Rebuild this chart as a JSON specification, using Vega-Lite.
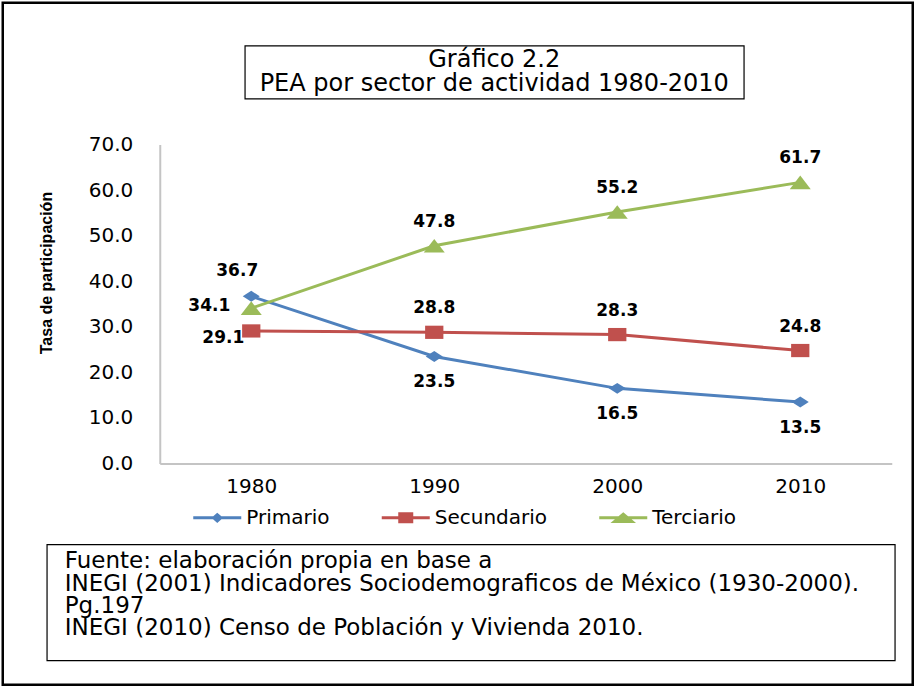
{
  "$schema": "https://vega.github.io/schema/vega-lite/v6.json",
  "padding": {"left": 0.75, "top": 0.75, "right": 0, "bottom": 0},
  "autosize": {"type": "pad"},
  "background": "white",
  "config": {"view": {"stroke": null}, "font": "DejaVu Sans"},
  "spacing": 0,
  "bounds": "flush",
  "resolve": {"scale": {"color": "independent", "shape": "independent"}, "legend": {"color": "independent", "shape": "independent"}},
  "vconcat": [
    {
      "spacing": 3.9,
      "bounds": "full",
      "resolve": {"scale": {"color": "independent", "shape": "independent"}, "legend": {"color": "independent", "shape": "independent"}},
      "vconcat": [
        {"width": 1, "height": 37.5, "data": {"values": []}, "mark": "point", "encoding": {}},
        {
          "spacing": 0,
          "bounds": "full",
          "hconcat": [
            {"width": 240.4, "height": 84.2, "data": {"values": []}, "mark": "point", "encoding": {}},
            {
              "width": 499, "height": 53,
              "view": {"stroke": "#000000", "strokeWidth": 1.2},
              "data": {"values": [{"titulo": "Gráfico 2.2\nPEA por sector de actividad 1980-2010"}]},
              "mark": {"type": "text", "lineBreak": "\n", "fontSize": 24, "lineHeight": 24, "dy": -12, "align": "center", "baseline": "middle", "color": "#000000", "font": "DejaVu Sans"},
              "encoding": {"text": {"field": "titulo", "type": "nominal"}}
            }
          ]
        },
        {
          "spacing": 0,
          "bounds": "full",
          "resolve": {"scale": {"color": "independent", "shape": "independent"}, "legend": {"color": "independent", "shape": "independent"}},
          "hconcat": [
            {"width": 35, "height": 1, "data": {"values": []}, "mark": "point", "encoding": {}},
            {
              "width": 732, "height": 319,
              "data": {"values": [
                {"year": "1980", "series": "Primario", "value": 36.7},
                {"year": "1990", "series": "Primario", "value": 23.5},
                {"year": "2000", "series": "Primario", "value": 16.5},
                {"year": "2010", "series": "Primario", "value": 13.5},
                {"year": "1980", "series": "Secundario", "value": 29.1},
                {"year": "1990", "series": "Secundario", "value": 28.8},
                {"year": "2000", "series": "Secundario", "value": 28.3},
                {"year": "2010", "series": "Secundario", "value": 24.8},
                {"year": "1980", "series": "Terciario", "value": 34.1},
                {"year": "1990", "series": "Terciario", "value": 47.8},
                {"year": "2000", "series": "Terciario", "value": 55.2},
                {"year": "2010", "series": "Terciario", "value": 61.7}
              ]},
              "encoding": {
                "x": {"field": "year", "type": "ordinal", "scale": {"padding": 0.5},
                  "axis": {"title": null, "labelAngle": 0, "ticks": false, "tickSize": 0, "labelPadding": 13, "labelFontSize": 20, "labelFont": "DejaVu Sans", "labelColor": "#000000", "domainColor": "#C4C4C4", "domainWidth": 2, "grid": false}},
                "y": {"field": "value", "type": "quantitative", "scale": {"domain": [0, 70], "nice": false},
                  "axis": {"title": "Tasa de participación", "values": [0, 10, 20, 30, 40, 50, 60, 70], "format": ".1f", "ticks": false, "tickSize": 0, "labelPadding": 27, "labelFontSize": 20, "labelFont": "DejaVu Sans", "labelColor": "#000000", "domainColor": "#C4C4C4", "domainWidth": 2, "grid": false,
                    "titleFont": "Liberation Sans", "titleFontSize": 16, "titleFontWeight": "bold", "titleColor": "#000000", "titleX": -113, "titleY": 128, "titleAngle": -90, "titleAlign": "center", "titleBaseline": "middle"}},
                "color": {"field": "series", "type": "nominal",
                  "scale": {"domain": ["Primario", "Secundario", "Terciario"], "range": ["#4F81BD", "#C0504D", "#9BBB59"]},
                  "legend": {"title": null, "orient": "none", "legendX": 32, "legendY": 347.5, "direction": "horizontal", "symbolSize": 2304, "symbolStrokeWidth": 3, "symbolOpacity": 1, "labelFontSize": 20, "labelFont": "DejaVu Sans", "labelColor": "#000000", "labelOffset": 3.5, "columnPadding": 45.5, "padding": 0}}
              },
              "layer": [
                {"mark": {"type": "point", "filled": false, "strokeWidth": 3, "size": 1},
                  "encoding": {"shape": {"field": "series", "type": "nominal",
                    "scale": {"domain": ["Primario", "Secundario", "Terciario"], "range": ["M-1,0H1M-0.15,0L0,-0.13L0.15,0L0,0.13Z", "M-1,0H1M-0.25,-0.17H0.25V0.17H-0.25ZM-0.25,-0.09H0.25M-0.25,0.09H0.25", "M-1,0H1M0,-0.15L0.36,0.15L-0.36,0.15ZM-0.27,0.08H0.27"]},
                    "legend": null}}},
                {"mark": {"type": "line", "strokeWidth": 3}},
                {"transform": [{"filter": "datum.series === 'Primario'"}],
                  "mark": {"type": "point", "filled": true, "opacity": 1, "size": 441, "strokeWidth": 0, "shape": "M-0.81,0L0,-0.52L0.81,0L0,0.52Z"}},
                {"transform": [{"filter": "datum.series === 'Secundario'"}],
                  "mark": {"type": "point", "filled": true, "opacity": 1, "size": 441, "strokeWidth": 0, "shape": "M-0.87,-0.63H0.87V0.63H-0.87Z"}},
                {"transform": [{"filter": "datum.series === 'Terciario'"}],
                  "mark": {"type": "point", "filled": true, "opacity": 1, "size": 441, "strokeWidth": 0, "shape": "M0,-0.65L1,0.65L-1,0.65Z"}},
                {"transform": [{"filter": "datum.series !== 'Primario' && datum.year !== '1980'"}],
                  "mark": {"type": "text", "fontSize": 17, "fontWeight": "bold", "dy": -24, "align": "center", "baseline": "middle"},
                  "encoding": {"text": {"field": "value", "type": "quantitative", "format": ".1f"}, "color": {"value": "#000000"}}},
                {"transform": [{"filter": "datum.series === 'Primario' && datum.year !== '1980'"}],
                  "mark": {"type": "text", "fontSize": 17, "fontWeight": "bold", "dy": 26, "align": "center", "baseline": "middle"},
                  "encoding": {"text": {"field": "value", "type": "quantitative", "format": ".1f"}, "color": {"value": "#000000"}}},
                {"transform": [{"filter": "datum.series === 'Primario' && datum.year === '1980'"}],
                  "mark": {"type": "text", "fontSize": 17, "fontWeight": "bold", "dx": -14, "dy": -25, "align": "center", "baseline": "middle"},
                  "encoding": {"text": {"field": "value", "type": "quantitative", "format": ".1f"}, "color": {"value": "#000000"}}},
                {"transform": [{"filter": "datum.series === 'Terciario' && datum.year === '1980'"}],
                  "mark": {"type": "text", "fontSize": 17, "fontWeight": "bold", "dx": -21, "dy": -2, "align": "right", "baseline": "middle"},
                  "encoding": {"text": {"field": "value", "type": "quantitative", "format": ".1f"}, "color": {"value": "#000000"}}},
                {"transform": [{"filter": "datum.series === 'Secundario' && datum.year === '1980'"}],
                  "mark": {"type": "text", "fontSize": 17, "fontWeight": "bold", "dx": -7, "dy": 7, "align": "right", "baseline": "middle"},
                  "encoding": {"text": {"field": "value", "type": "quantitative", "format": ".1f"}, "color": {"value": "#000000"}}}
              ]
            }
          ]
        },
        {"width": 1, "height": 6.1, "data": {"values": []}, "mark": "point", "encoding": {}},
        {
          "spacing": 0,
          "bounds": "full",
          "hconcat": [
            {"width": 42.4, "height": 1, "data": {"values": []}, "mark": "point", "encoding": {}},
            {
              "width": 848, "height": 116,
              "view": {"stroke": "#000000", "strokeWidth": 1.2},
              "data": {"values": [{"fuente": "Fuente: elaboración propia en base a\n\u00a0INEGI (2001) Indicadores Sociodemograficos de México (1930-2000).\nPg.197\nINEGI (2010) Censo de Población y Vivienda 2010."}]},
              "mark": {"type": "text", "lineBreak": "\n", "align": "left", "baseline": "alphabetic", "fontSize": 23, "lineHeight": 22.3, "dx": 18, "dy": 24, "color": "#000000", "font": "DejaVu Sans"},
              "encoding": {
                "text": {"field": "fuente", "type": "nominal"},
                "x": {"datum": 0, "type": "quantitative", "scale": {"domain": [0, 1]}, "axis": null},
                "y": {"datum": 1, "type": "quantitative", "scale": {"domain": [0, 1]}, "axis": null}
              }
            }
          ]
        }
      ]
    },
    {
      "width": 910, "height": 682,
      "view": {"stroke": "#000000", "strokeWidth": 2.5},
      "data": {"values": []},
      "mark": "point",
      "encoding": {}
    }
  ]
}
